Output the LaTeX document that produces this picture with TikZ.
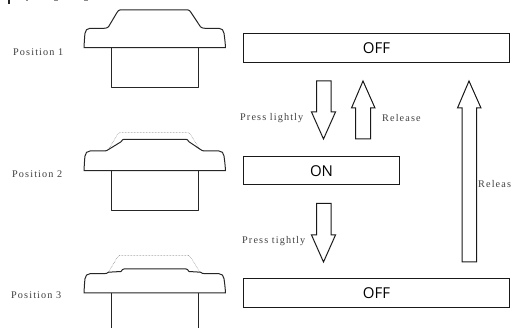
\documentclass[tikz,border=0pt]{standalone}
\usepackage{fontspec}
\setmainfont{Liberation Serif}[LetterSpace=11]
\newfontfamily\boxfont{Open Sans}
\tikzset{
  px/.style={x=1pt,y=-1pt},
  line/.style={draw=black!85,line width=1pt,line join=round},
  ghost/.style={draw=black!55,line width=0.5pt,densely dotted},
  statebox/.style={draw=black!90,line width=1pt,fill=white,inner sep=0pt,font=\boxfont\fontsize{15}{17}\selectfont},
  lab/.style={font=\fontsize{10.2}{12}\selectfont,text=black!75,inner sep=0pt,anchor=west},
  fat/.style={draw=black!90,line width=1pt,fill=white,line join=miter},
}
\newcommand{\capshape}[5]{% y brim, y top, y base, x top left, x top right
  \draw[line,fill=white] (84,#3) .. controls (84.3,#3-6) and (84.6,#1+8) .. (85,#1+5) .. controls (85.4,#1+2) and (87,#1) .. (90,#1) -- (104,#1)
    .. controls (106,#1) and (107.5,#1-0.5) .. (108.5,#1-1.5) -- (#4-3,#2+2.5) .. controls (#4-2,#2+0.7) and (#4-1,#2) .. (#4,#2) -- (#5,#2) .. controls (#5+1,#2) and (#5+2,#2+0.7) .. (#5+3,#2+2.5) -- (200.5,#1-1.5) .. controls (201.5,#1-0.5) and (203,#1) .. (205,#1) -- (219,#1) .. controls (222,#1) and (223.6,#1+2) .. (224,#1+5) .. controls (224.4,#1+8) and (225.2,#3-6) .. (225.5,#3) -- cycle;
}
\newcommand{\ghostshape}[2]{% y brim, y top
  \draw[ghost] (108,#1) -- (117,#2+2.5) .. controls (118,#2+0.7) and (119,#2) .. (120,#2) -- (188,#2) .. controls (189,#2) and (190,#2+0.7) .. (191,#2+2.5) -- (200.5,#1);
}
\begin{document}
\begin{tikzpicture}[px]
\useasboundingbox (0,0) rectangle (514,328);
% fragments of a heading cut off by the top edge
\fill[black!85] (7.5,0) rectangle (10,4);
\fill[black!45] (26,0) rectangle (28,1);
\fill[black!45] (54,0) rectangle (58,1);
\fill[black!45] (84,0) rectangle (88,1);
% position labels
\node[lab] (p1) at (13,52.5) {Position 1};
\node[lab] (p2) at (12,174) {Position 2};
\node[lab] (p3) at (11,295) {Position 3};
% buttons
\capshape{28.3}{10}{47.7}{120}{188}
\draw[line] (111,47.7) -- (111,88) -- (198,88) -- (198,47.7);
\ghostshape{150.5}{132.7}
\capshape{151}{139.3}{170.7}{124}{186}
\draw[line] (111,170.7) -- (111,210.5) -- (198,210.5) -- (198,170.7);
\ghostshape{273}{255.3}
\capshape{273.7}{269}{293}{124}{186}
\draw[line] (111,293) -- (111,329);
\draw[line] (198,293) -- (198,329);
% state boxes
\node[statebox,minimum width=266pt,minimum height=29pt,anchor=north west] (off1) at (243,33.5) {OFF};
\node[statebox,minimum width=156pt,minimum height=28pt,anchor=north west] (on) at (243,156.5) {ON};
\node[statebox,minimum width=266pt,minimum height=28.5pt,anchor=north west] (off2) at (243,278.5) {OFF};
% arrows
\draw[fat] (316.5,81) -- (316.5,112) -- (311.5,112) -- (323.5,139) -- (335.5,112) -- (331,112) -- (331,81) -- cycle;
\draw[fat] (355.5,139) -- (355.5,108) -- (351.5,108) -- (363,81) -- (375,108) -- (370.5,108) -- (370.5,139) -- cycle;
\draw[fat] (316.5,203.5) -- (316.5,235) -- (311.5,235) -- (323.5,262) -- (335.5,235) -- (331,235) -- (331,203.5) -- cycle;
\draw[fat] (462,262) -- (462,108) -- (457.5,108) -- (469,81) -- (481,108) -- (476.5,108) -- (476.5,262) -- cycle;
% arrow labels
\node[lab] (t1) at (240,118) {Press lightly};
\node[lab] (t2) at (382,118) {Release};
\node[lab] (t3) at (242,241) {Press tightly};
\node[lab] (t4) at (478,184) {Releas};
\end{tikzpicture}
\end{document}
